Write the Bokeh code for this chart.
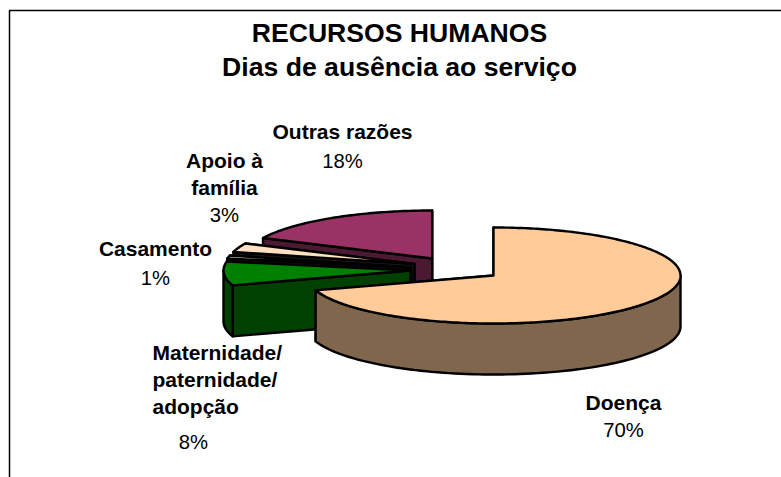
import numpy as np
from bokeh.plotting import figure
from bokeh.models import ColumnDataSource
from bokeh.core.properties import value
from bokeh.embed import file_html
from bokeh.resources import INLINE

# ---- data ----
categories = ["Doença", "Maternidade/\npaternidade/\nadopção", "Casamento", "Apoio à\nfamília", "Outras razões"]
shares = [70, 8, 1, 3, 18]
title_lines = ["RECURSOS HUMANOS", "Dias de ausência ao serviço"]

# ---- styles ----
top_colors = ["#FFCC99", "#008000", "#FFE0C0", "#FFE0C0", "#993366"]
side_colors = ["#7F664C", "#004000", "#1A1410", "#1A1410", "#4C1933"]

# ---- layout (page pixels) ----
RX, RY, DEPTH = 187, 48, 51
apex_x = [493, 410, 410.5, 414, 431.7]
apex_y = [275, 270, 267, 263.4, 258]
# lines of each label: (anchor x, align, first line y, line step, percent x, percent y)
label_layout = [
    (623, "center", 402, 27, 623, 429),
    (152, "left", 352, 27, 193, 441),
    (155, "center", 248, 27, 155, 277),
    (224, "center", 160, 27, 224, 214),
    (342, "center", 131, 27, 342, 160),
]
title_layout = [(399, 32), (399, 66)]
FONT = "Liberation Sans"
TITLE_SIZE = "26.6px"
LABEL_SIZE = "21px"
PERCENT_SIZE = "20.3px"

p = figure(width=781, height=477, x_range=(0, 781), y_range=(477, 0),
           output_backend="svg", toolbar_location=None, min_border=0,
           outline_line_color=None, background_fill_color="white", border_fill_color="white")
p.xaxis.visible = False
p.yaxis.visible = False
p.grid.visible = False

# chart frame: only its top and left edges are in the window
p.line([9, 9, 781], [477, 10, 10], line_color="black", line_width=1.5)


def pt(cx, cy, theta, dy=0.0):
    return cx + RX * np.sin(theta), cy - RY * np.cos(theta) + dy


edges = np.cumsum([0] + shares) / sum(shares) * 2 * np.pi

xs, ys, fills = [], [], []
# back to front, as the slices overlap
for i in [4, 3, 2, 1, 0]:
    a, b = edges[i], edges[i + 1]
    cx, cy = apex_x[i], apex_y[i]
    # cut faces
    for t in (b, a):
        ex, ey = pt(cx, cy, t)
        xs.append([cx, ex, ex, cx])
        ys.append([cy, ey, ey + DEPTH, cy + DEPTH])
        fills.append(side_colors[i])
    # front rim
    lo, hi = max(a, np.pi / 2), min(b, 3 * np.pi / 2)
    if hi > lo:
        t = np.linspace(lo, hi, 90)
        ax, ay = pt(cx, cy, t)
        xs.append(np.r_[ax, ax[::-1]])
        ys.append(np.r_[ay, ay[::-1] + DEPTH])
        fills.append(side_colors[i])
    # top
    t = np.linspace(a, b, max(int((b - a) * 60), 4))
    ax, ay = pt(cx, cy, t)
    xs.append(np.r_[cx, ax])
    ys.append(np.r_[cy, ay])
    fills.append(top_colors[i])

src = ColumnDataSource(dict(xs=[list(x) for x in xs], ys=[list(y) for y in ys], fill=fills))
p.patches("xs", "ys", source=src, fill_color="fill", line_color="black", line_width=2.4, line_join="round")

# title
for line, (x, y) in zip(title_lines, title_layout):
    p.text([x], [y], text=[line], text_font=value(FONT), text_font_size=TITLE_SIZE,
           text_font_style="bold", text_align="center", text_baseline="middle", text_color="black")

# labels
for name, share, (x, al, y0, step, px, py) in zip(categories, shares, label_layout):
    for j, line in enumerate(name.split("\n")):
        p.text([x], [y0 + j * step], text=[line], text_font=value(FONT), text_font_size=LABEL_SIZE,
               text_font_style="bold", text_align=al, text_baseline="middle", text_color="black")
    p.text([px], [py], text=[f"{share}%"], text_font=value(FONT), text_font_size=PERCENT_SIZE,
           text_align="center", text_baseline="middle", text_color="black")

open("out.html", "w").write(file_html(p, INLINE))
